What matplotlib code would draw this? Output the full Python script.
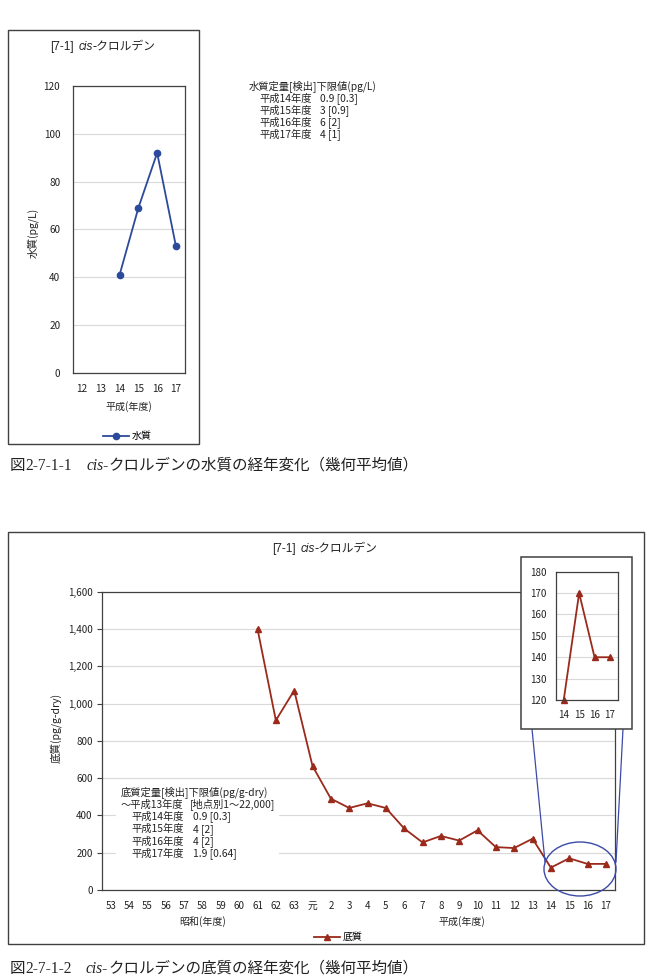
import numpy as np
import matplotlib
matplotlib.use("Agg")
import matplotlib.pyplot as plt
from matplotlib.patches import Rectangle, Ellipse
from matplotlib.lines import Line2D
from matplotlib.ticker import FuncFormatter

plt.rcParams["font.family"] = ["Noto Sans CJK JP", "DejaVu Sans"]

# =====================================================
# DATA
# =====================================================

water_years = ["12", "13", "14", "15", "16", "17"]
water_values = [np.nan, np.nan, 41, 69, 92, 53]

sed_years = ["53", "54", "55", "56", "57", "58", "59", "60", "61", "62", "63",
             "元", "2", "3", "4", "5", "6", "7", "8", "9", "10", "11", "12",
             "13", "14", "15", "16", "17"]
sed_values = [np.nan] * 8 + [1400, 910, 1070, 665, 490, 440, 465, 440, 330,
                             255, 290, 265, 320, 230, 225, 275, 120, 170,
                             140, 140]

inset_years = ["14", "15", "16", "17"]
inset_values = [120, 170, 140, 140]

water_note_head = "水質定量[検出]下限値(pg/L)"
water_note_years = ["平成14年度", "平成15年度", "平成16年度", "平成17年度"]
water_note_vals = ["0.9 [0.3]", "3 [0.9]", "6 [2]", "4 [1]"]

sed_note_head = "底質定量[検出]下限値(pg/g-dry)"
sed_note_line2 = ("～平成13年度", "[地点別1～22,000]")
sed_note_years = ["平成14年度", "平成15年度", "平成16年度", "平成17年度"]
sed_note_vals = ["0.9 [0.3]", "4 [2]", "4 [2]", "1.9 [0.64]"]

BLUE = "#2c4a9c"
RED = "#9a2a1c"
GRID = "#d9d9d9"
FRAME = "#404040"
TXT = "#222222"

# =====================================================
# FIGURE HELPERS (pixel layout)
# =====================================================

W, H = 648, 976
fig = plt.figure(figsize=(W / 100, H / 100), dpi=100)
renderer = fig.canvas.get_renderer()


def box(x0, y0, x1, y1):
    return [x0 / W, 1 - y1 / H, (x1 - x0) / W, (y1 - y0) / H]


def fxy(x, y):
    return x / W, 1 - y / H


def ptext(x, y, s, size=7.2, **kw):
    return fig.text(*fxy(x, y), s, fontsize=size, color=kw.pop("color", TXT),
                    **kw)


def rich_text(x, y, parts, size, ha="left"):
    # parts: (text, kwargs, gap_px_after); y is baseline
    objs, widths = [], []
    for s, kw, gap in parts:
        t = fig.text(0, 0, s, fontsize=size, va="baseline", color=TXT, **kw)
        objs.append(t)
        widths.append(t.get_window_extent(renderer).width + gap)
    start = x - sum(widths) / 2 if ha == "center" else x
    for t, w in zip(objs, widths):
        t.set_position(fxy(start, y))
        start += w


def style_axes(ax):
    for sp in ax.spines.values():
        sp.set_color(FRAME)
        sp.set_linewidth(0.9)
    ax.grid(axis="y", color=GRID, linewidth=0.8)
    ax.set_axisbelow(True)


serif = dict(family="Liberation Serif")
serif_it = dict(family="Liberation Serif", style="italic")
sans = dict(family="Liberation Sans")
sans_it = dict(family="Liberation Sans", style="italic")
cjk = dict(family=["Noto Sans CJK JP", "DejaVu Sans"])

# =====================================================
# WATER CHART
# =====================================================

fig.add_artist(Rectangle(fxy(7.5, 444), 191.5 / W, 414 / H,
                         transform=fig.transFigure, fill=False,
                         edgecolor=FRAME, linewidth=1.0, zorder=1))

rich_text(103, 50, [("[7-1]", sans, 4), ("cis", sans_it, 0),
                    ("-クロルデン", cjk, 0)], 8.5, ha="center")

ax1 = fig.add_axes(box(72.7, 86, 185.3, 372.7))
style_axes(ax1)
ax1.plot(range(len(water_years)), water_values, color=BLUE, marker="o",
         markersize=4.5, linewidth=1.3, label="水質")
ax1.set_xlim(-0.5, len(water_years) - 0.5)
ax1.set_ylim(0, 120)
ax1.set_yticks(range(0, 121, 20))
ax1.set_xticks(range(len(water_years)))
ax1.set_xticklabels(water_years)
ax1.tick_params(length=0, labelsize=7.2, colors=TXT)
ax1.tick_params(axis="y", pad=9)
ax1.tick_params(axis="x", pad=8)

ptext(33, 233, "水質(pg/L)", size=7.6, rotation=90, ha="center", va="center")
ptext(129, 407, "平成(年度)", size=7.2, ha="center", va="center")
ax1.legend(loc="center", bbox_to_anchor=fxy(127, 436),
           bbox_transform=fig.transFigure, frameon=False, fontsize=7.2,
           handlelength=2.6, handletextpad=0.3)

ptext(249, 86, water_note_head, size=7.4, va="center")
for i, (yr, v) in enumerate(zip(water_note_years, water_note_vals)):
    ptext(259, 98.5 + 12 * i, yr, size=7.4, va="center")
    ptext(320, 98.5 + 12 * i, v, size=7.4, va="center")

rich_text(10, 470, [("図", cjk, 0), ("2-7-1-1", serif, 14),
                    ("cis-", serif_it, 0),
                    ("クロルデンの水質の経年変化（幾何平均値）", cjk, 0)], 11.2)

# =====================================================
# SEDIMENT CHART
# =====================================================

fig.add_artist(Rectangle(fxy(7.5, 944), 636 / W, 412.5 / H,
                         transform=fig.transFigure, fill=False,
                         edgecolor=FRAME, linewidth=1.0, zorder=1))

rich_text(325, 552, [("[7-1]", sans, 4), ("cis", sans_it, 0),
                     ("-クロルデン", cjk, 0)], 8.5, ha="center")

ax2 = fig.add_axes(box(101.7, 591.7, 615, 890))
style_axes(ax2)
ax2.plot(range(len(sed_years)), sed_values, color=RED, marker="^",
         markersize=5, linewidth=1.3, label="底質")
ax2.set_xlim(-0.5, len(sed_years) - 0.5)
ax2.set_ylim(0, 1600)
ax2.set_yticks(range(0, 1601, 200))
ax2.yaxis.set_major_formatter(FuncFormatter(lambda v, p: f"{v:,.0f}"))
ax2.set_xticks(range(len(sed_years)))
ax2.set_xticklabels(sed_years)
ax2.tick_params(labelsize=7, colors=TXT)
ax2.tick_params(axis="y", length=3.5, width=0.8, pad=3, color=FRAME)
ax2.tick_params(axis="x", length=0, pad=8)

ptext(56, 728, "底質(pg/g-dry)", size=7.6, rotation=90, ha="center",
      va="center")
ptext(203, 922, "昭和(年度)", size=7.2, ha="center", va="center")
ptext(462, 922, "平成(年度)", size=7.2, ha="center", va="center")
ax2.legend(loc="center", bbox_to_anchor=fxy(338, 937),
           bbox_transform=fig.transFigure, frameon=False, fontsize=7.2,
           handlelength=2.6, handletextpad=0.3)

# detection limit note with white background
fig.add_artist(Rectangle(fxy(116, 860), 163 / W, 77 / H,
                         transform=fig.transFigure, facecolor="white",
                         edgecolor="none", zorder=1))
ptext(121, 792, sed_note_head, size=7.4, va="center")
ptext(121, 804.5, sed_note_line2[0], size=7.4, va="center")
ptext(190, 804.5, sed_note_line2[1], size=7.4, va="center")
for i, (yr, v) in enumerate(zip(sed_note_years, sed_note_vals)):
    ptext(131, 817 + 12.2 * i, yr, size=7.4, va="center")
    ptext(193, 817 + 12.2 * i, v, size=7.4, va="center")

# zoom ellipse and connector lines
fig.add_artist(Ellipse(fxy(580, 869), 72 / W, 54 / H,
                       transform=fig.transFigure, fill=False,
                       edgecolor="#3b4aa6", linewidth=1.0, zorder=2))
fig.add_artist(Line2D([532 / W, 545 / W], [1 - 729 / H, 1 - 862 / H],
                      transform=fig.transFigure, color="#3b4aa6",
                      linewidth=0.9, zorder=2))
fig.add_artist(Line2D([623 / W, 616 / W], [1 - 729 / H, 1 - 862 / H],
                      transform=fig.transFigure, color="#3b4aa6",
                      linewidth=0.9, zorder=2))

# inset
fig.add_artist(Rectangle(fxy(520.7, 729.3), 111 / W, 172 / H,
                         transform=fig.transFigure, facecolor="white",
                         edgecolor=FRAME, linewidth=1.1, zorder=2.5))
ax3 = fig.add_axes(box(556, 571.7, 617.7, 700))
ax3.set_zorder(3)
style_axes(ax3)
ax3.plot(range(len(inset_years)), inset_values, color=RED, marker="^",
         markersize=5, linewidth=1.3)
ax3.set_xlim(-0.5, len(inset_years) - 0.5)
ax3.set_ylim(120, 180)
ax3.set_yticks(range(120, 181, 10))
ax3.set_xticks(range(len(inset_years)))
ax3.set_xticklabels(inset_years)
ax3.tick_params(length=0, labelsize=7, colors=TXT)
ax3.tick_params(axis="y", pad=7)
ax3.tick_params(axis="x", pad=7)
for ln in ax3.lines:
    ln.set_clip_on(False)

rich_text(10, 973, [("図", cjk, 0), ("2-7-1-2", serif, 14),
                    ("cis-", serif_it, 0),
                    ("クロルデンの底質の経年変化（幾何平均値）", cjk, 0)], 11.2)

fig.savefig("out.png", dpi=100)
